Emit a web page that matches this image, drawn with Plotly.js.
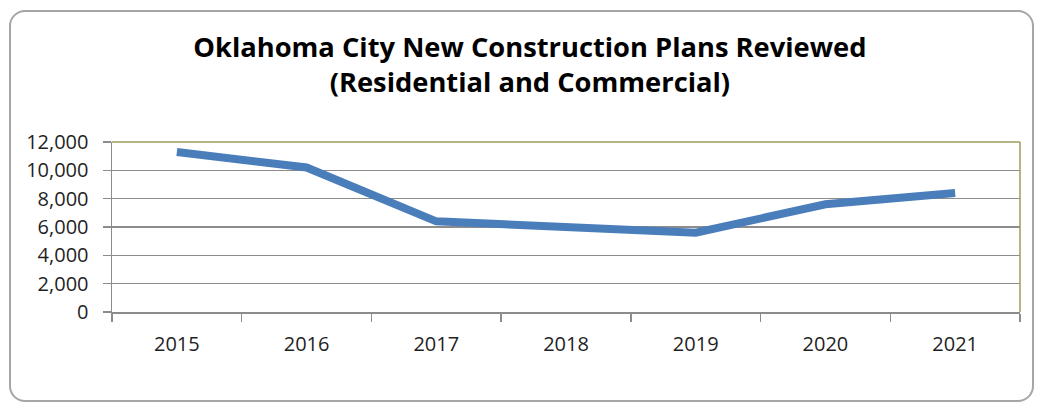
<!DOCTYPE html>
<html>
<head>
<meta charset="utf-8">
<script src="https://cdn.plot.ly/plotly-3.0.1.min.js"></script>
<style>
  html, body { margin: 0; padding: 0; background: #ffffff; }
  #wrap { position: relative; width: 1039px; height: 404px; }
  #frame { position: absolute; left: 9px; top: 10px; width: 1021px; height: 388px;
           border: 2px solid #a6a6a6; border-radius: 16px; pointer-events: none; z-index: 5; }
  #chart { position: absolute; left: 0; top: 0; width: 1039px; height: 404px; }
</style>
</head>
<body>
<div id="wrap">
  <div id="chart"></div>
  <div id="frame"></div>
</div>
<script>
const years = ["2015", "2016", "2017", "2018", "2019", "2020", "2021"];
const plansReviewed = [11300, 10200, 6400, 6000, 5600, 7600, 8400];
const yTicks = [0, 2000, 4000, 6000, 8000, 10000, 12000];
const titleLines = ["Oklahoma City New Construction Plans Reviewed", "(Residential and Commercial)"];

const tickFont = { family: "'Open Sans', sans-serif", size: 20, color: "#1f1f1f" };

const trace = {
  x: years,
  y: plansReviewed,
  type: "scatter",
  mode: "lines",
  line: { color: "#4a7ebb", width: 8, shape: "linear" },
  hoverinfo: "x+y"
};

const layout = {
  width: 1039,
  height: 404,
  margin: { l: 112, r: 19, t: 142, b: 92 },
  paper_bgcolor: "rgba(0,0,0,0)",
  plot_bgcolor: "#ffffff",
  showlegend: false,
  title: {
    text: titleLines.join("<br>"),
    font: { family: "'Open Sans', sans-serif", size: 27.3, color: "#000000", weight: "bold" },
    x: 0.51,
    xanchor: "center",
    y: 0.86,
    yanchor: "top"
  },
  xaxis: {
    type: "category",
    range: [-0.5, 6.5],
    showgrid: false,
    showline: true,
    linecolor: "#8c8c8c",
    linewidth: 1.5,
    ticks: "outside",
    tickson: "boundaries",
    ticklen: 8,
    tickcolor: "#8c8c8c",
    tickwidth: 1.5,
    ticklabelstandoff: 13,
    tickfont: tickFont,
    zeroline: false,
    fixedrange: true
  },
  yaxis: {
    range: [0, 12000],
    tickvals: yTicks,
    tickformat: ",d",
    showgrid: true,
    gridcolor: "#8c8c8c",
    gridwidth: 1.5,
    showline: true,
    linecolor: "#8c8c8c",
    linewidth: 1.5,
    ticks: "outside",
    ticklen: 8,
    tickcolor: "#8c8c8c",
    tickwidth: 1.5,
    ticklabelstandoff: 10,
    tickfont: tickFont,
    zeroline: false,
    fixedrange: true
  },
  shapes: [
    { type: "line", xref: "paper", yref: "paper", x0: 0, x1: 1, y0: 1, y1: 1,
      line: { color: "#9e9a5c", width: 1.5 } },
    { type: "line", xref: "paper", yref: "paper", x0: 1, x1: 1, y0: 0, y1: 1,
      line: { color: "#9e9a5c", width: 1.5 } }
  ]
};

Plotly.newPlot("chart", [trace], layout, { displayModeBar: false, staticPlot: true });
</script>
</body>
</html>
